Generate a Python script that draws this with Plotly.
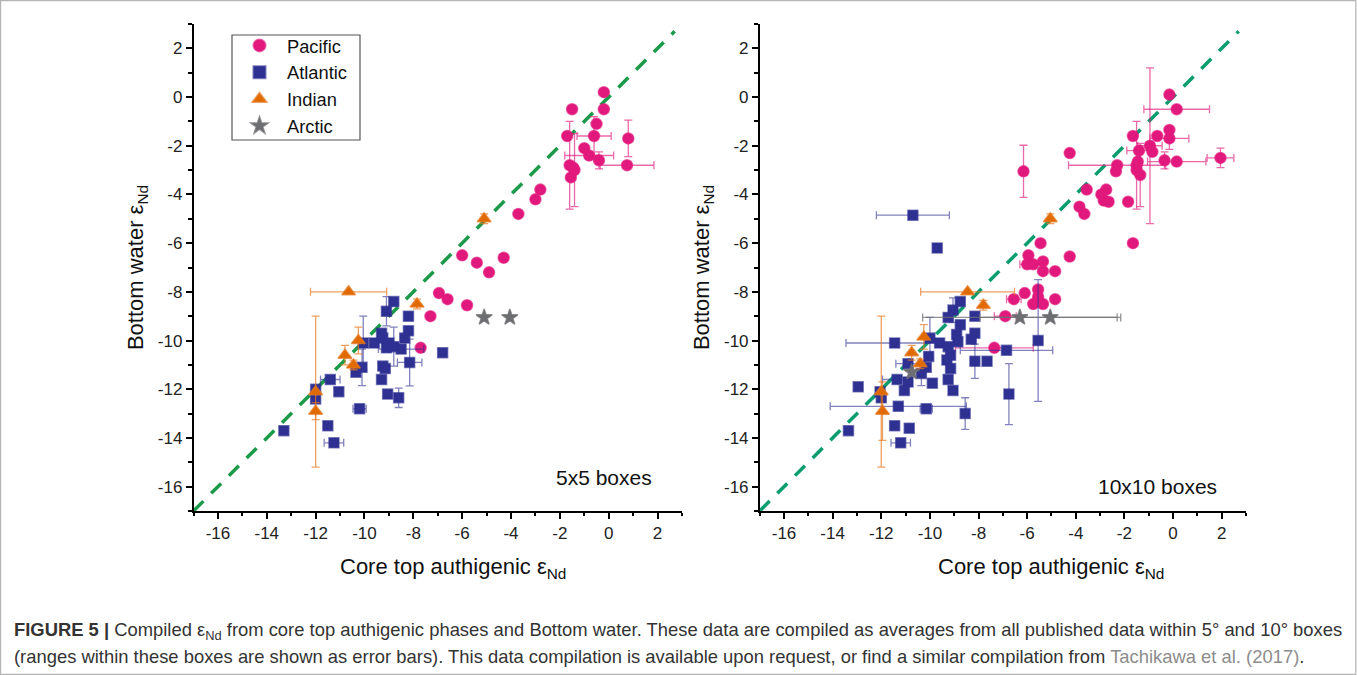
import plotly.graph_objects as go

# ---------------- DATA ----------------
# Left panel: 5x5 boxes
pac5_x = [-0.2, -0.2, -1.5, -0.5, -1.7, -0.6, 0.8, -1.0, -0.8, -0.4, 0.75, -1.6, -1.4, -1.55, -1.45,
          -2.8, -3.0, -3.7, -6.0, -5.4, -4.3, -4.9, -6.95, -6.6, -5.8, -7.3, -7.7]
pac5_y = [0.2, -0.5, -0.5, -1.1, -1.6, -1.6, -1.7, -2.1, -2.4, -2.6, -2.8, -2.8, -3.0, -3.3, -2.9,
          -3.8, -4.2, -4.8, -6.5, -6.8, -6.6, -7.2, -8.05, -8.3, -8.55, -9.0, -10.3]
pac5_xe = [0, 0, 0, 0, 0, 0.7, 0, 0, 1.0, 0, 1.1, 0, 0, 0, 0,
           0, 0, 0, 0, 0, 0, 0, 0, 0, 0, 0, 0]
pac5_ye = [0, 0, 0, 0, 0, 0.8, 0.75, 0, 0, 0.35, 0, 1.8, 1.5, 0, 0,
           0, 0, 0, 0, 0, 0, 0, 0, 0, 0, 0, 0]

atl5_x = [-8.8, -9.1, -8.2, -8.2, -8.35, -9.3, -9.6, -9.25, -9.0, -8.8, -9.1, -10.05, -8.5, -8.15,
          -9.25, -9.15, -10.1, -10.35, -9.3, -11.4, -11.05, -12.0, -12.0, -9.05, -8.6, -10.2,
          -11.5, -13.3, -11.25, -6.8]
atl5_y = [-8.4, -8.8, -9.0, -9.6, -9.9, -9.7, -10.1, -9.9, -10.1, -10.25, -10.3, -10.1, -10.35, -10.9,
          -11.05, -11.15, -11.1, -11.3, -11.6, -11.6, -12.1, -12.0, -12.4, -12.2, -12.35, -12.8,
          -13.5, -13.7, -14.2, -10.5]
atl5_xe = [0, 0, 0, 0, 0, 0, 0, 0, 0, 0, 0, 0, 0.93, 0.5,
           0, 0, 0, 0, 0, 0.4, 0, 0, 0, 0, 0, 0.27,
           0, 0, 0.4, 0]
atl5_ye = [0, 0.6, 0, 0, 0, 0, 0, 0, 0, 0.8, 0, 1.1, 0, 0.96,
           0, 0, 0.75, 0, 0, 0, 0, 0, 0, 0, 0.4, 0,
           0, 0, 0, 0]

ind5_x = [-10.65, -7.85, -5.1, -10.25, -10.8, -10.45, -12.0, -12.0]
ind5_y = [-8.0, -8.5, -5.0, -10.0, -10.6, -11.0, -12.1, -12.9]
ind5_xe = [1.56, 0, 0, 0, 0, 0, 0, 0]
ind5_ye = [0, 0.2, 0.2, 0.55, 0.4, 0.2, 3.1, 0.35]

arc5_x = [-5.1, -4.05]
arc5_y = [-9.05, -9.05]
arc5_xe = [0, 0]
arc5_ye = [0, 0]

# Right panel: 10x10 boxes
pac10_x = [-0.15, 0.15, -0.15, -0.15, -1.65, -0.65, -0.95, -0.85, -1.4, -0.35, 0.15, 1.95, -1.5, -1.35,
           -1.45, -1.5, -2.3, -2.35, -4.25, -3.55, -2.75, -2.95, -2.85, -2.65, -1.85, -3.85, -3.65,
           -1.65, -4.25, -6.15, -5.45, -5.95, -6.0, -5.75, -5.35, -5.35, -4.85, -6.1, -6.55, -5.55,
           -5.55, -5.75, -5.35, -4.85, -6.9, -7.35]
pac10_y = [0.1, -0.5, -1.35, -1.7, -1.6, -1.6, -2.0, -2.25, -2.2, -2.6, -2.65, -2.5, -2.8, -3.2,
           -2.65, -3.0, -2.8, -3.05, -2.3, -3.8, -3.8, -4.0, -4.25, -4.3, -4.3, -4.5, -4.8,
           -6.0, -6.55, -3.05, -6.0, -6.5, -6.87, -6.87, -6.75, -7.15, -7.15, -8.05, -8.3, -7.9,
           -8.2, -8.5, -8.5, -8.3, -9.0, -10.3]
pac10_xe = [0, 1.35, 0, 0.8, 0, 0, 0.5, 0, 0.5, 0, 1.2, 0.55, 0, 0,
            0, 0, 2.0, 0, 0, 0, 0, 0, 0, 0, 0, 0, 0,
            0, 0, 0, 0, 0, 0.3, 0, 0, 0, 0, 0, 0.3, 0,
            0, 0, 0, 0, 0.45, 1.6]
pac10_ye = [0, 0, 0, 0.45, 0, 0, 3.2, 0, 0, 0.35, 0, 0.4, 1.8, 1.3,
            0, 0, 0, 0, 0, 0, 0, 0, 0, 0, 0, 0, 0,
            0, 0, 1.07, 0, 0, 0, 0, 0, 0, 0, 0, 0, 0,
            0, 0, 0, 0, 0, 0]

atl10_x = [-10.7, -9.7, -8.75, -9.05, -9.25, -8.15, -8.75, -8.15, -8.9, -8.3, -8.85, -9.6, -11.45,
           -9.25, -9.15, -9.3, -9.15, -10.05, -10.35, -10.15, -10.9, -8.15, -7.65, -6.85, -5.55,
           -9.9, -9.25, -9.05, -11.05, -10.9, -11.35, -12.05, -12.0, -12.95, -11.3, -10.15, -8.55,
           -6.75, -11.45, -10.85, -13.35, -11.2, -10.0]
atl10_y = [-4.85, -6.2, -8.4, -8.75, -9.05, -9.0, -9.35, -9.7, -9.75, -9.95, -10.05, -10.1, -10.1,
           -10.25, -10.6, -10.8, -11.15, -10.65, -11.35, -11.1, -10.95, -10.85, -10.85, -10.4, -10.0,
           -11.75, -11.6, -12.05, -12.05, -11.7, -11.6, -12.1, -12.35, -11.9, -12.7, -12.8, -13.0,
           -12.2, -13.5, -13.6, -13.7, -14.2, -9.9]
atl10_xe = [1.5, 0, 0, 0, 0, 0, 0, 0, 0, 0, 0, 0, 2.0,
            0, 0, 0, 0, 0, 0, 0, 0.5, 0, 0, 1.9, 0,
            0, 0, 0, 0, 0, 0.6, 0, 0, 0, 2.8, 0.25, 0,
            0, 0, 0, 0, 0.4, 0]
atl10_ye = [0, 0, 0, 0.5, 0, 0, 0, 0, 0, 0, 0, 0, 0,
            0, 0, 0, 0, 0, 0.5, 0, 0, 0.7, 0, 0, 2.5,
            0, 0, 0, 0, 0, 0, 0, 0, 0, 0, 0, 0.65,
            1.25, 0, 0, 0, 0, 0.85]

ind10_x = [-5.05, -8.45, -7.8, -10.25, -10.75, -10.4, -12.0, -11.95]
ind10_y = [-5.0, -8.0, -8.55, -9.85, -10.5, -10.95, -12.1, -12.9]
ind10_xe = [0, 1.93, 0, 0, 0, 0, 0, 0]
ind10_ye = [0.2, 0, 0.2, 0.5, 0.3, 0.2, 3.1, 1.2]

arc10_x = [-6.3, -5.05, -10.75]
arc10_y = [-9.05, -9.05, -11.3]
arc10_xe = [4.0, 2.9, 0]
arc10_ye = [0, 0, 0]

one_to_one = [-17, 2.7]
tick_vals = [-16, -14, -12, -10, -8, -6, -4, -2, 0, 2]
tick_text = ["-16", "-14", "-12", "-10", "-8", "-6", "-4", "-2", "0", "2"]

# ---------------- STYLE ----------------
oceans = {
    "Pacific": dict(color="#e2197c", ecolor="rgba(226,25,124,0.65)", symbol="circle", size=11),
    "Atlantic": dict(color="#2e3192", ecolor="rgba(46,49,146,0.6)", symbol="square", size=10),
    "Indian": dict(color="#e06a00", ecolor="rgba(230,120,30,0.7)", symbol="triangle-up", size=12),
    "Arctic": dict(color="#6d6e71", ecolor="rgba(109,110,113,0.75)", symbol="star", size=12),
}

fig = go.Figure()

def add(name, x, y, xe, ye, xa, ya, show):
    s = oceans[name]
    fig.add_trace(go.Scatter(
        x=x, y=y, mode="markers", name=name, showlegend=show, legendgroup=name,
        xaxis=xa, yaxis=ya,
        marker=dict(color=s["color"], symbol=s["symbol"], size=s["size"],
                    line=dict(color=s["ecolor"], width=1.5)),
        error_x=dict(type="data", array=xe, visible=True, color=s["ecolor"], thickness=1.3, width=4),
        error_y=dict(type="data", array=ye, visible=True, color=s["ecolor"], thickness=1.3, width=4),
    ))

for xa, ya, dcol in [("x", "y", "#1c9a4a"), ("x2", "y2", "#0b9c6f")]:
    fig.add_trace(go.Scatter(x=one_to_one, y=one_to_one, mode="lines", showlegend=False,
                             xaxis=xa, yaxis=ya, hoverinfo="skip",
                             line=dict(color=dcol, width=3.5, dash="14px,11px")))

add("Pacific", pac5_x, pac5_y, pac5_xe, pac5_ye, "x", "y", True)
add("Atlantic", atl5_x, atl5_y, atl5_xe, atl5_ye, "x", "y", True)
add("Indian", ind5_x, ind5_y, ind5_xe, ind5_ye, "x", "y", True)
add("Arctic", arc5_x, arc5_y, arc5_xe, arc5_ye, "x", "y", True)
add("Pacific", pac10_x, pac10_y, pac10_xe, pac10_ye, "x2", "y2", False)
add("Atlantic", atl10_x, atl10_y, atl10_xe, atl10_ye, "x2", "y2", False)
add("Indian", ind10_x, ind10_y, ind10_xe, ind10_ye, "x2", "y2", False)
add("Arctic", arc10_x, arc10_y, arc10_xe, arc10_ye, "x2", "y2", False)

W, H = 1357, 675
FONT = "Liberation Sans, Arial, sans-serif"

def axis(domain, anchor, title):
    d = dict(
        domain=domain, anchor=anchor, range=[-17, 3], showgrid=False, zeroline=False,
        showline=True, linecolor="black", linewidth=1.5, mirror=False,
        ticks="outside", ticklen=6, tickwidth=1.5, tickcolor="black",
        tickvals=tick_vals, ticktext=tick_text,
        tickfont=dict(family=FONT, size=17, color="#222"),
        minor=dict(tickmode="linear", tick0=-17, dtick=1, ticks="outside", ticklen=3.5,
                   tickwidth=1.5, tickcolor="black", showgrid=False),
    )
    if title:
        d["title"] = dict(text=title, font=dict(family=FONT, size=22, color="#111"), standoff=8)
    return d

xdomL = [193.5 / W, 682 / W]
xdomR = [759.7 / W, 1246 / W]
ydom = [(H - 511) / H, (H - 24) / H]

fig.update_layout(
    width=W, height=H, margin=dict(l=0, r=0, t=0, b=0),
    paper_bgcolor="white", plot_bgcolor="white",
    font=dict(family=FONT),
    xaxis=axis(xdomL, "y", None),
    yaxis=axis(ydom, "x", "Bottom water ε<sub>Nd</sub>"),
    xaxis2=axis(xdomR, "y2", None),
    yaxis2=axis(ydom, "x2", "Bottom water ε<sub>Nd</sub>"),
    legend=dict(x=232 / W, y=(H - 27) / H, xanchor="left", yanchor="top",
                borderwidth=0, bgcolor="rgba(0,0,0,0)",
                font=dict(family=FONT, size=18.3, color="#111"), itemsizing="constant",
                itemwidth=45, tracegroupgap=0),
    showlegend=True,
)

# legend frame
fig.add_shape(type="rect", xref="paper", yref="paper", x0=232 / W, x1=360 / W,
              y0=(H - 140) / H, y1=(H - 35) / H, line=dict(color="#555", width=1.2),
              fillcolor="rgba(0,0,0,0)", layer="above")

def txt(text, xpx, ypx, size, **kw):
    fig.add_annotation(text=text, xref="paper", yref="paper", x=xpx / W, y=(H - ypx) / H,
                       showarrow=False, font=dict(family=FONT, size=size, color=kw.pop("color", "#111")),
                       **kw)

txt("Core top authigenic ε<sub>Nd</sub>", 453, 568, 22, xanchor="center", yanchor="middle")
txt("Core top authigenic ε<sub>Nd</sub>", 1051, 568, 22, xanchor="center", yanchor="middle")
txt("5x5 boxes", 604, 477, 21, xanchor="center", yanchor="middle")
txt("10x10 boxes", 1157, 486, 21, xanchor="center", yanchor="middle")

cap1 = ("<b>FIGURE 5 |</b> Compiled ε<sub>Nd</sub> from core top authigenic phases and Bottom water. "
        "These data are compiled as averages from all published data within 5° and 10° boxes")
cap2 = ("(ranges within these boxes are shown as error bars). This data compilation is available upon "
        "request, or find a similar compilation from <span style='color:#8c8c8c'>Tachikawa et al. (2017)</span>.")
txt(cap1, 12, 631, 18.4, xanchor="left", yanchor="middle", align="left", color="#333")
txt(cap2, 12, 656, 18.4, xanchor="left", yanchor="middle", align="left", color="#333")

fig.add_shape(type="rect", xref="paper", yref="paper", x0=0.6 / W, x1=1 - 1.2 / W,
              y0=0.6 / H, y1=1 - 0.6 / H, line=dict(color="#b5b5b5", width=1.2))

fig.write_html("out.html")
